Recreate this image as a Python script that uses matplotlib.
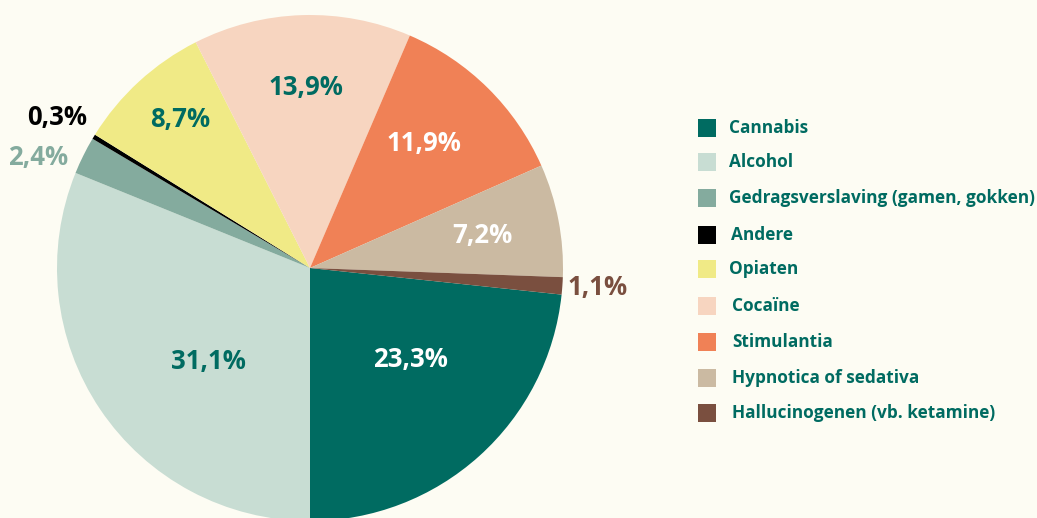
import matplotlib
matplotlib.use("Agg")
import matplotlib.pyplot as plt

categories = ["Cannabis", "Alcohol", "Gedragsverslaving (gamen, gokken)", "Andere",
              "Opiaten", "Cocaïne", "Stimulantia", "Hypnotica of sedativa",
              "Hallucinogenen (vb. ketamine)"]
values = [23.3, 31.1, 2.4, 0.3, 8.7, 13.9, 11.9, 7.2, 1.1]
value_labels = ["23,3%", "31,1%", "2,4%", "0,3%", "8,7%", "13,9%", "11,9%", "7,2%", "1,1%"]

colors = ["#006b61", "#c8ddd3", "#84ab9e", "#000000", "#f0ea86",
          "#f7d5c0", "#f08156", "#cbbaa2", "#7a4f3f"]
label_colors = ["#ffffff", "#006b61", "#84ab9e", "#000000", "#006b61",
                "#006b61", "#ffffff", "#ffffff", "#7a4f3f"]
# label positions in pixel coords (x, y from top)
label_pos = [(410, 359), (208, 361), (38, 158), (57, 117), (180, 119),
             (306, 88), (424, 144), (482, 236), (598, 288)]

BG = "#fdfcf3"
TEAL = "#006b61"
W, H = 1037, 518

fig = plt.figure(figsize=(W / 100, H / 100), dpi=100, facecolor=BG)
ax = fig.add_axes([0, 0, 1, 1])
ax.set_facecolor(BG)

cx, cy, R = 310, H - 268, 253
start = 270 + values[0] / sum(values) * 360
ax.pie(values, colors=colors, startangle=start, counterclock=False,
       center=(cx, cy), radius=R, frame=True,
       wedgeprops=dict(linewidth=0))
ax.set_xlim(0, W)
ax.set_ylim(0, H)
ax.set_aspect("equal")
ax.axis("off")

font = ["Open Sans", "DejaVu Sans"]
for lab, (x, y), c in zip(value_labels, label_pos, label_colors):
    ax.text(x, H - y, lab, color=c, fontsize=18.5, fontweight="bold",
            family=font, ha="center", va="center")

# legend
rows_y = [128, 162, 198, 235, 269, 306, 342, 378, 413]
text_x = [729, 729, 729, 731, 729, 732, 732, 732, 732]
for cat, col, y, tx in zip(categories, colors, rows_y, text_x):
    ax.add_patch(plt.Rectangle((698, H - y - 9), 18, 18, color=col, lw=0))
    ax.text(tx, H - y, cat, color=TEAL, fontsize=12.4, fontweight="bold",
            family=font, ha="left", va="center")

fig.savefig("out.png", dpi=100, facecolor=BG)
